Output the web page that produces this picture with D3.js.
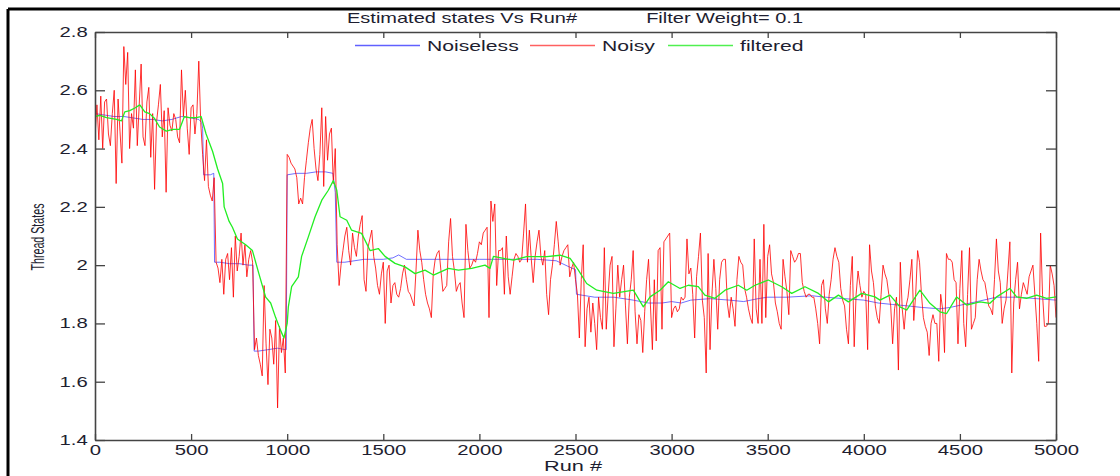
<!DOCTYPE html>
<html>
<head>
<meta charset="utf-8">
<script src="https://cdn.jsdelivr.net/npm/d3@7"></script>
<style>
  html, body { margin: 0; padding: 0; background: #fff; }
  svg { display: block; }
  text { font-family: "Liberation Sans", Arial, Helvetica, sans-serif; fill: #1e1e30; }
</style>
</head>
<body>
<svg id="chart" width="1120" height="476"></svg>
<script>
// Tick values / labels
const runTicks = [0, 500, 1000, 1500, 2000, 2500, 3000, 3500, 4000, 4500, 5000];
const stateTicks = [1.4, 1.6, 1.8, 2.0, 2.2, 2.4, 2.6, 2.8];
const stateTickLabels = ["1.4", "1.6", "1.8", "2", "2.2", "2.4", "2.6", "2.8"];

const seriesNames = ["Noiseless", "Noisy", "filtered"];

// Noisy states, one value every 10 runs (run 0 .. 5000)
const noisyStep = 10;
const noisyVals = [
  2.44, 2.55, 2.43, 2.58, 2.40, 2.56, 2.57, 2.45, 2.41, 2.52,
  2.60, 2.28, 2.57, 2.46, 2.35, 2.75, 2.62, 2.73, 2.40, 2.52,
  2.47, 2.67, 2.41, 2.55, 2.69, 2.44, 2.41, 2.56, 2.61, 2.37,
  2.52, 2.26, 2.49, 2.55, 2.62, 2.44, 2.53, 2.25, 2.54, 2.48,
  2.46, 2.52, 2.50, 2.44, 2.42, 2.67, 2.51, 2.60, 2.47, 2.38,
  2.54, 2.55, 2.45, 2.52, 2.70, 2.49, 2.38, 2.29, 2.43, 2.27,
  2.24, 2.22, 2.30, 2.01, 1.99, 1.94, 2.02, 1.90, 2.02, 2.04,
  1.95, 2.06, 1.89, 2.10, 1.98, 2.03, 2.11, 2.00, 2.07, 1.96,
  2.02, 2.05, 2.01, 1.71, 1.75, 1.69, 1.66, 1.62, 1.93, 1.73,
  1.59, 1.78, 1.75, 1.66, 1.81, 1.51, 1.79, 1.70, 1.75, 1.63,
  2.38, 2.37, 2.35, 2.34, 2.33, 2.30, 2.21, 2.23, 2.21, 2.30,
  2.36, 2.42, 2.47, 2.50, 2.40, 2.33, 2.29, 2.38, 2.54, 2.27,
  2.51, 2.36, 2.45, 2.47, 2.28, 2.40, 2.07, 1.93, 2.00, 2.05,
  2.10, 2.13, 2.05, 2.00, 2.11, 2.06, 2.03, 2.10, 2.14, 2.17,
  1.95, 1.91, 2.06, 2.09, 2.12, 2.03, 1.99, 1.93, 1.90, 1.97,
  2.01, 1.80, 1.98, 2.00, 1.87, 1.93, 1.94, 1.90, 1.89, 1.92,
  1.97, 2.00, 1.95, 1.91, 1.90, 1.88, 1.86, 1.98, 2.12, 2.05,
  2.01, 1.95, 1.90, 1.87, 1.85, 1.82, 1.97, 2.02, 2.04, 2.05,
  1.98, 1.91, 1.92, 1.93, 2.08, 2.16, 2.03, 1.98, 1.91, 1.93,
  1.94, 1.87, 1.82, 2.14, 2.05, 1.99, 2.00, 2.02, 2.01, 2.04,
  2.08, 2.07, 2.11, 2.12, 2.13, 1.82, 2.22, 2.15, 2.21, 1.93,
  2.05, 2.05, 2.06, 1.90, 2.10, 1.96, 1.90, 1.96, 2.02, 2.04,
  2.03, 2.01, 2.02, 2.11, 2.21, 2.01, 2.12, 2.02, 1.94, 2.03,
  2.08, 2.12, 2.03, 2.00, 2.05, 1.90, 1.83, 1.95, 2.00, 2.07,
  2.15, 2.08, 2.00, 2.03, 2.05, 2.06, 2.07, 1.96, 1.99, 2.01,
  1.95, 1.90, 1.75, 1.95, 2.07, 1.72, 1.85, 1.89, 1.77, 1.87,
  1.80, 1.71, 1.89, 1.82, 1.78, 2.06, 1.78, 1.90, 2.00, 2.03,
  1.72, 1.85, 2.00, 1.89, 1.95, 2.00, 1.86, 1.73, 1.89, 1.95,
  2.05, 1.84, 1.73, 1.83, 1.81, 1.70, 1.84, 1.95, 2.02, 1.86,
  1.71, 1.95, 1.74, 2.05, 2.06, 1.78, 2.08, 2.09, 2.10, 2.11,
  1.82, 1.85, 1.86, 1.84, 1.85, 1.89, 1.88, 1.89, 2.09, 1.97,
  1.99, 1.90, 1.75, 1.96, 2.03, 2.11, 1.88, 1.82, 1.63, 2.04,
  1.71, 1.90, 2.02, 1.92, 1.78, 1.95, 2.01, 2.02, 2.02, 1.87,
  1.82, 1.89, 1.85, 1.79, 1.95, 2.03, 2.01, 2.00, 1.92, 1.89,
  1.85, 1.82, 1.80, 2.09, 1.85, 1.80, 2.02, 1.80, 2.14, 1.82,
  2.03, 2.07, 1.97, 1.94, 1.87, 1.84, 1.80, 1.78, 2.02, 1.96,
  1.91, 1.83, 2.05, 2.03, 2.01, 2.02, 2.04, 2.04, 1.94, 1.91,
  1.89, 1.90, 1.90, 1.89, 1.89, 1.85, 1.80, 1.73, 1.93, 1.95,
  1.85, 1.80, 1.90, 1.95, 2.02, 2.06, 2.03, 2.01, 1.92, 1.88,
  1.86, 1.78, 1.73, 1.93, 2.03, 1.72, 1.90, 1.98, 1.93, 1.89,
  1.91, 1.90, 1.71, 2.07, 1.98, 1.94, 1.86, 1.82, 1.80, 1.90,
  2.00, 1.97, 1.95, 1.90, 1.86, 1.73, 1.85, 1.89, 1.64, 2.01,
  1.85, 1.78, 1.86, 1.89, 1.95, 2.02, 1.81, 1.90, 2.05, 2.01,
  1.90, 1.82, 1.79, 1.77, 1.69, 1.80, 1.83, 1.80, 1.80, 1.67,
  1.90, 1.85, 1.70, 2.04, 2.02, 2.02, 2.01, 1.95, 1.94, 1.73,
  1.92, 2.05, 1.80, 1.72, 1.90, 2.06, 1.78, 1.80, 1.82, 1.95,
  2.02, 1.98, 1.95, 1.94, 1.90, 1.86, 1.85, 1.83, 1.95, 2.09,
  1.98, 1.94, 1.80, 1.85, 1.88, 1.98, 2.08, 1.63, 1.87, 1.95,
  2.01, 1.85, 1.90, 1.94, 1.92, 1.90, 1.96, 1.98, 2.00, 1.90,
  1.80, 1.67, 2.11, 1.90, 1.79, 1.79, 1.80, 2.00, 1.97, 1.93,
  1.82
];

// Noiseless states (piecewise, with the step changes)
const noiselessRuns = [
  0, 50, 100, 150, 200, 250, 300, 350, 400, 450,
  500, 540, 555, 560, 565, 600, 618, 622, 650, 700,
  750, 800, 822, 828, 850, 900, 950, 990, 995, 1000,
  1050, 1100, 1150, 1200, 1238, 1250, 1258, 1300, 1400, 1500,
  1550, 1580, 1620, 1700, 1800, 1900, 2000, 2100, 2200, 2300,
  2400, 2480, 2500, 2505, 2600, 2700, 2800, 2880, 2950, 3000,
  3050, 3100, 3200, 3300, 3375, 3450, 3500, 3600, 3730, 3800,
  3900, 4000, 4075, 4150, 4230, 4300, 4396, 4450, 4590, 4690,
  4800, 4900, 5000
];
const noiselessVals = [
  2.52, 2.515, 2.51, 2.51, 2.505, 2.50, 2.50, 2.495, 2.50, 2.51,
  2.505, 2.50, 2.49, 2.47, 2.31, 2.31, 2.315, 2.01, 2.01, 2.005,
  2.005, 2.00, 2.00, 1.705, 1.705, 1.71, 1.715, 1.71, 1.71, 2.31,
  2.315, 2.315, 2.32, 2.32, 2.315, 2.25, 2.01, 2.01, 2.02, 2.02,
  2.025, 2.035, 2.02, 2.02, 2.02, 2.02, 2.02, 2.02, 2.02, 2.02,
  2.015, 1.99, 1.985, 1.90, 1.89, 1.89, 1.88, 1.87, 1.87, 1.875,
  1.87, 1.88, 1.885, 1.88, 1.875, 1.885, 1.89, 1.89, 1.895, 1.89,
  1.885, 1.88, 1.87, 1.865, 1.86, 1.855, 1.85, 1.855, 1.875, 1.89,
  1.89, 1.885, 1.88
];

// Filtered states
const filteredRuns = [
  0, 26, 60, 112, 138, 155, 181, 210, 233, 259,
  284, 310, 336, 371, 405, 440, 465, 491, 526, 552,
  578, 612, 638, 664, 672, 698, 715, 741, 784, 819,
  853, 888, 914, 940, 965, 983, 1000, 1006, 1023, 1058,
  1075, 1110, 1145, 1180, 1214, 1240, 1258, 1275, 1310, 1335,
  1387, 1431, 1474, 1509, 1561, 1613, 1665, 1717, 1761, 1839,
  1891, 1960, 2029, 2055, 2073, 2177, 2246, 2350, 2420, 2472,
  2515, 2558, 2611, 2697, 2801, 2853, 2888, 2940, 2983, 3044,
  3087, 3139, 3173, 3226, 3278, 3347, 3391, 3434, 3503, 3573,
  3625, 3694, 3764, 3816, 3868, 3920, 3989, 4058, 4084, 4136,
  4188, 4223, 4292, 4344, 4396, 4431, 4483, 4535, 4604, 4656,
  4691, 4760, 4795, 4847, 4899, 4951, 5000
];
const filteredVals = [
  2.51, 2.514, 2.506, 2.50, 2.495, 2.526, 2.53, 2.54, 2.55, 2.526,
  2.52, 2.503, 2.474, 2.46, 2.466, 2.466, 2.51, 2.506, 2.506, 2.51,
  2.45, 2.39, 2.33, 2.28, 2.20, 2.15, 2.13, 2.09, 2.07, 2.05,
  1.97, 1.89, 1.87, 1.82, 1.777, 1.75, 1.80, 1.857, 1.926, 1.96,
  2.03, 2.097, 2.166, 2.223, 2.257, 2.29, 2.257, 2.166, 2.154, 2.12,
  2.109, 2.05, 2.057, 2.03, 2.006, 1.994, 1.971, 1.983, 1.966, 1.989,
  1.983, 1.989, 2.00, 1.989, 2.03, 2.017, 2.029, 2.029, 2.034, 2.023,
  1.983, 1.937, 1.914, 1.903, 1.914, 1.857, 1.891, 1.914, 1.943, 1.92,
  1.931, 1.926, 1.897, 1.886, 1.914, 1.931, 1.914, 1.931, 1.949, 1.926,
  1.903, 1.926, 1.903, 1.874, 1.897, 1.874, 1.903, 1.891, 1.88, 1.897,
  1.857, 1.846, 1.914, 1.869, 1.84, 1.834, 1.891, 1.863, 1.874, 1.869,
  1.891, 1.92, 1.891, 1.886, 1.897, 1.886, 1.891
];

const svg = d3.select("#chart");

// Outer figure frame (top and left edges only)
svg.append("line").attr("x1", 8).attr("y1", 9).attr("x2", 1120).attr("y2", 9)
  .attr("stroke", "#000").attr("stroke-width", 3);
svg.append("line").attr("x1", 8).attr("y1", 9).attr("x2", 8).attr("y2", 476)
  .attr("stroke", "#000").attr("stroke-width", 3);

const x = d3.scaleLinear().domain([0, 5000]).range([95, 1056]);
const y = d3.scaleLinear().domain([1.4, 2.8]).range([440, 32]);

// The original figure is stretched sideways; text glyphs get the same stretch
const stretch = 1.45;

const plot = svg.append("g");
plot.append("defs").append("clipPath").attr("id", "clip")
  .append("rect").attr("x", 95).attr("y", 32).attr("width", 961).attr("height", 408);

const lines = plot.append("g").attr("clip-path", "url(#clip)");

const lineGen = d3.line().x(d => x(d[0])).y(d => y(d[1]));

const noiselessData = noiselessRuns.map((r, i) => [r, noiselessVals[i]]);
const noisyData = noisyVals.map((v, i) => [i * noisyStep, v]);
const filteredData = filteredRuns.map((r, i) => [r, filteredVals[i]]);

lines.append("path").datum(noiselessData)
  .attr("d", lineGen).attr("fill", "none")
  .attr("stroke", "#3333ff").attr("stroke-opacity", 0.7).attr("stroke-width", 1);

lines.append("path").datum(noisyData)
  .attr("d", lineGen).attr("fill", "none")
  .attr("stroke", "#ff0000").attr("stroke-opacity", 0.8).attr("stroke-width", 1)
  .attr("stroke-linejoin", "round");

lines.append("path").datum(filteredData)
  .attr("d", lineGen).attr("fill", "none")
  .attr("stroke", "#22ee22").attr("stroke-width", 1.3)
  .attr("stroke-linejoin", "round");

// Axes box with inward ticks on all sides
const axisColor = "#444";
function styleAxis(g) {
  g.select(".domain").attr("stroke", axisColor).attr("stroke-width", 1.6);
  g.selectAll(".tick line").attr("stroke", axisColor).attr("stroke-width", 1.3);
  g.selectAll("text").attr("fill", "#1e1e30").style("font-size", "14px")
    .attr("transform", `scale(${stretch},1)`);
}

plot.append("g").attr("transform", "translate(0,440)")
  .call(d3.axisBottom(x).tickValues(runTicks).tickSize(-6).tickSizeOuter(0).tickPadding(5)
    .tickFormat(d3.format("d")))
  .call(styleAxis);

plot.append("g").attr("transform", "translate(0,32)")
  .call(d3.axisTop(x).tickValues(runTicks).tickSize(-6).tickSizeOuter(0).tickFormat(() => ""))
  .call(styleAxis);

plot.append("g").attr("transform", "translate(95,0)")
  .call(d3.axisLeft(y).tickValues(stateTicks).tickSize(-10).tickSizeOuter(0).tickPadding(5)
    .tickFormat((d, i) => stateTickLabels[i]))
  .call(styleAxis);

plot.append("g").attr("transform", "translate(1056,0)")
  .call(d3.axisRight(y).tickValues(stateTicks).tickSize(-10).tickSizeOuter(0).tickFormat(() => ""))
  .call(styleAxis);

// Title
svg.append("text").attr("transform", `translate(347,23) scale(${stretch},1)`)
  .style("font-size", "13.8px").text("Estimated states Vs Run#");
svg.append("text").attr("transform", `translate(803,23) scale(${stretch},1)`)
  .attr("text-anchor", "end")
  .style("font-size", "13.8px").text("Filter Weight= 0.1");

// Axis labels
svg.append("text").attr("transform", `translate(573,471) scale(${stretch},1)`)
  .attr("text-anchor", "middle")
  .style("font-size", "15px").text("Run #");
svg.append("text").attr("transform", `translate(44,237) scale(${stretch},1) rotate(-90)`)
  .attr("text-anchor", "middle")
  .attr("textLength", 67).attr("lengthAdjust", "spacingAndGlyphs")
  .style("font-size", "13px").text("Thread States");

// Legend
const legendColors = ["#6060ff", "#ff6060", "#50f050"];
const legendLineX = [355, 530, 668];
const legendTextX = [427, 602, 740];
const legend = svg.append("g");
seriesNames.forEach((name, i) => {
  legend.append("line")
    .attr("x1", legendLineX[i]).attr("x2", legendLineX[i] + 65)
    .attr("y1", 45.5).attr("y2", 45.5)
    .attr("stroke", legendColors[i]).attr("stroke-width", 1.4);
  legend.append("text")
    .attr("transform", `translate(${legendTextX[i]},50.5) scale(${stretch},1)`)
    .style("font-size", "14.6px").text(name);
});
</script>
</body>
</html>
